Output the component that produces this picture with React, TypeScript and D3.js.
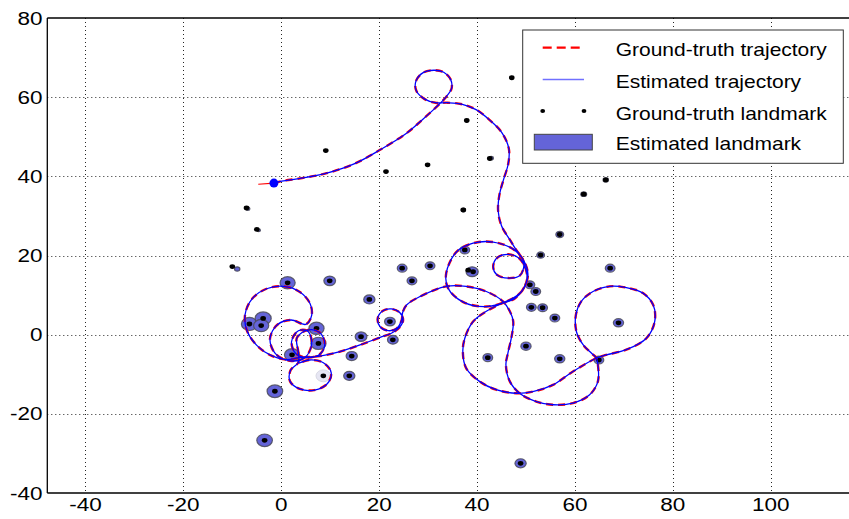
import React from 'react';
import * as d3 from 'd3';

// ground-truth path starts a little before the estimate
const gtStart: [number, number] = [-4.7, 38.0];

// trajectory [x, y]
const trajectory: [number, number][] = [
  [-1.5, 38.3], [0.1, 38.8], [4.5, 39.6], [9.3, 40.8], [15.0, 43.2], [20.2, 46.7], [25.6, 50.9],
  [29.0, 54.5], [31.5, 57.3], [33.5, 59.8], [34.8, 62.2], [34.6, 64.5], [33.2, 66.3], [31.2, 66.8],
  [29.0, 66.2], [27.5, 64.0], [27.6, 61.6], [29.3, 59.5], [31.5, 58.6], [34.0, 58.6], [37.0, 58.2],
  [39.9, 56.8], [42.6, 54.2], [45.1, 51.0], [46.5, 47.0], [46.4, 43.3], [45.4, 39.1], [44.6, 35.5],
  [44.3, 31.5], [45.0, 27.5], [46.7, 24.0], [48.0, 21.4], [49.4, 18.9], [49.5, 16.8], [48.7, 14.9],
  [46.4, 14.3], [44.1, 15.1], [43.3, 17.3], [44.3, 19.6], [46.4, 20.3], [48.6, 19.3], [49.9, 16.8],
  [50.2, 13.9], [49.1, 10.9], [46.7, 8.8], [41.9, 7.1], [37.1, 8.3], [34.1, 11.7], [33.7, 15.5],
  [35.8, 20.9], [39.2, 23.1], [43.3, 23.4], [47.4, 21.6], [49.5, 18.8], [50.4, 15.2], [49.6, 11.9],
  [47.6, 9.0], [45.3, 8.0], [41.9, 5.9], [39.2, 3.3], [37.5, -0.9], [37.1, -4.3], [37.8, -8.5],
  [40.5, -11.8], [43.9, -13.9], [48.0, -14.8], [51.4, -14.4], [55.5, -12.7], [59.6, -9.3], [64.4, -5.9],
  [66.4, -5.1], [70.5, -3.8], [74.6, -0.9], [76.3, 3.3], [76.0, 7.5], [73.9, 10.5], [70.5, 11.9],
  [67.1, 12.2], [63.7, 10.9], [61.3, 8.4], [60.2, 5.0], [60.3, 0.8], [61.7, -2.6], [63.4, -4.7],
  [64.4, -5.9], [64.7, -7.6], [64.7, -11.8], [63.0, -15.2], [59.6, -17.3], [55.5, -17.7], [52.1, -16.9],
  [48.7, -14.8], [46.7, -11.8], [45.9, -7.6], [46.3, -4.7], [47.0, -0.9], [47.4, 3.3], [46.7, 5.9],
  [45.3, 8.4], [41.9, 10.9], [37.8, 12.2], [33.7, 12.2], [28.3, 9.6], [25.6, 7.5], [24.8, 5.6],
  [24.6, 3.7], [23.6, 1.6], [21.9, 1.0], [20.2, 2.0], [19.7, 4.1], [20.7, 6.0], [22.5, 6.5],
  [24.2, 5.6], [24.9, 3.7], [24.2, 1.9], [22.5, 0.35], [20.2, -0.7], [16.1, -2.6], [12.0, -4.3],
  [7.9, -5.4], [3.8, -5.8], [1.0, -6.3], [-2.0, -5.3], [-5.0, -2.7], [-7.0, 1.0], [-7.4, 5.0],
  [-6.0, 9.0], [-3.0, 11.6], [0.5, 12.2], [3.8, 10.8], [5.9, 7.8], [6.2, 4.8], [5.0, 2.6],
  [2.0, 3.7], [-0.8, 2.5], [-2.3, -1.0], [-1.2, -4.8], [1.8, -6.6], [4.8, -5.8], [6.2, -2.5],
  [5.5, 0.8], [3.5, 1.0], [2.1, -1.8], [3.0, -4.8], [5.5, -5.8], [8.0, -4.8], [8.9, -2.2],
  [7.8, 0.6], [5.5, 1.2], [3.2, -0.8], [3.5, -4.5], [3.5, -7.0], [1.9, -9.0], [1.8, -11.8],
  [3.8, -13.7], [6.8, -14.0], [9.4, -12.4], [10.2, -9.6], [8.6, -7.1], [5.8, -6.4], [3.6, -7.2],
];

// ground-truth landmarks [x, y]
const gtLandmarks: [number, number][] = [
  [47.1, 64.9], [37.9, 54.1], [42.6, 44.5], [9.1, 46.5], [21.4, 41.2], [29.9, 42.9], [37.2, 31.5],
  [-7.1, 32.0], [-5.0, 26.6], [61.8, 35.5], [66.3, 39.1], [56.9, 25.3], [53.0, 20.1], [-10.0, 17.2],
  [1.3, 13.1], [9.9, 13.6], [18.0, 8.9], [24.7, 16.8], [26.7, 13.6], [30.4, 17.4], [37.5, 21.4],
  [38.2, 16.3], [39.2, 15.9], [50.8, 12.6], [52.0, 10.9], [51.1, 6.9], [53.4, 6.8], [55.9, 4.2],
  [67.2, 16.8], [68.9, 3.0], [64.9, -6.4], [56.9, -6.1], [50.0, -2.9], [42.2, -5.8], [-6.5, 2.7],
  [-3.7, 4.1], [-4.1, 2.3], [7.2, 1.6], [7.6, -2.2], [2.2, -5.1], [16.3, -0.5], [22.2, 3.3],
  [22.8, -1.3], [14.4, -5.4], [13.9, -10.4], [8.6, -10.4], [-1.3, -14.3], [-3.4, -26.7], [48.9, -32.5],
];

// estimated landmarks [x, y, sigma]
const estLandmarks: [number, number, number][] = [
  [47.1, 64.9, 0.35], [37.9, 54.1, 0.35], [42.9, 44.6, 0.45], [9.1, 46.5, 0.3], [21.4, 41.2, 0.3],
  [29.9, 42.9, 0.3], [37.2, 31.5, 0.45], [-6.8, 31.8, 0.4], [-4.6, 26.4, 0.35], [61.8, 35.5, 0.6],
  [66.3, 39.1, 0.55], [56.9, 25.3, 0.8], [53.0, 20.1, 0.8], [-9.0, 16.6, 0.55], [1.3, 13.1, 1.55],
  [9.9, 13.6, 1.2], [18.0, 8.9, 1.15], [24.7, 16.8, 1.0], [26.7, 13.6, 1.0], [30.4, 17.4, 1.0],
  [37.5, 21.4, 1.0], [39.0, 15.9, 1.25], [50.8, 12.6, 1.0], [52.0, 10.9, 1.0], [51.1, 6.9, 1.0],
  [53.4, 6.8, 1.0], [55.9, 4.2, 1.0], [67.2, 16.8, 1.0], [68.9, 3.0, 1.05], [64.9, -6.4, 1.0],
  [56.9, -6.1, 1.05], [50.0, -2.9, 1.05], [42.2, -5.8, 1.0], [-6.5, 2.7, 1.65], [-3.7, 4.1, 1.65],
  [-4.1, 2.3, 1.55], [7.2, 1.6, 1.55], [7.6, -2.2, 1.55], [2.2, -5.1, 1.55], [16.3, -0.5, 1.2],
  [22.2, 3.3, 1.1], [22.8, -1.3, 1.1], [14.4, -5.4, 1.15], [13.9, -10.4, 1.15], [-1.3, -14.3, 1.6],
  [-3.4, -26.7, 1.6], [48.9, -32.5, 1.15],
];

// newly initialised landmark, drawn faint
const faintLandmarks: [number, number, number][] = [[8.6, -10.4, 1.5]];

const xTicks = [-40, -20, 0, 20, 40, 60, 80, 100];
const yTicks = [-40, -20, 0, 20, 40, 60, 80];

const legendItems = ['Ground-truth trajectory', 'Estimated trajectory', 'Ground-truth landmark', 'Estimated landmark'];

const W = 849;
const H = 519;
const FONT = '"Liberation Sans", Arial, Helvetica, sans-serif';

export default function App() {
  const x = d3.scaleLinear().domain([-47.8, 116]).range([47.3, 849]);
  const y = d3.scaleLinear().domain([-40, 80]).range([493, 18]);

  const line = d3.line<[number, number]>()
    .x(d => x(d[0]))
    .y(d => y(d[1]))
    .curve(d3.curveCatmullRom.alpha(0.5));

  const gtPath = line(trajectory) || '';
  const estPath = line(trajectory) || '';

  const rx = (s: number) => x(s) - x(0);
  const ry = (s: number) => y(0) - y(s);

  const [x0, x1] = x.range();
  const [y0, y1] = y.range();

  const legX = 522.7;
  const legY = 30;
  const rowY = [47.7, 79.5, 111, 142];
  const baseY = [56, 88, 119.5, 150];

  return (
    <svg width={W} height={H} style={{ position: 'absolute', left: 0, top: 0, background: '#fff' }}>
      <rect x={0} y={0} width={W} height={H} fill="#fff" />
      <defs>
        <clipPath id="plot">
          <rect x={x0} y={y1} width={x1 - x0} height={y0 - y1} />
        </clipPath>
      </defs>

      {/* grid */}
      <g stroke="#000" strokeWidth={1} strokeDasharray="1,3" opacity={0.85}>
        {xTicks.map(t => (
          <line key={'gx' + t} x1={Math.round(x(t)) + 0.5} x2={Math.round(x(t)) + 0.5} y1={y1} y2={y0} />
        ))}
        {yTicks.filter(t => t > -40 && t < 80).map(t => (
          <line key={'gy' + t} x1={x0} x2={x1} y1={Math.round(y(t)) + 0.5} y2={Math.round(y(t)) + 0.5} />
        ))}
      </g>

      <g clipPath="url(#plot)">
        {/* estimated landmarks */}
        {estLandmarks.map((d, i) => (
          <ellipse key={'e' + i} cx={x(d[0])} cy={y(d[1])} rx={rx(d[2])} ry={ry(d[2])}
            fill="#6464d8" stroke="#4a4a58" strokeWidth={1.2} strokeOpacity={0.85} />
        ))}
        {faintLandmarks.map((d, i) => (
          <ellipse key={'f' + i} cx={x(d[0])} cy={y(d[1])} rx={rx(d[2])} ry={ry(d[2])}
            fill="#e6e6f3" stroke="#d8d8e4" strokeWidth={1} />
        ))}
        {/* ground-truth landmarks */}
        {gtLandmarks.map((d, i) => (
          <ellipse key={'g' + i} cx={x(d[0])} cy={y(d[1])} rx={2.8} ry={2.4} fill="#000" />
        ))}
        {/* trajectories */}
        <line x1={x(gtStart[0])} y1={y(gtStart[1])} x2={x(trajectory[0][0])} y2={y(trajectory[0][1])}
          stroke="#ff0000" strokeWidth={1.2} />
        <path d={gtPath} fill="none" stroke="#ff0000" strokeWidth={2.4} strokeDasharray="7,5" />
        <path d={estPath} fill="none" stroke="#0000ff" strokeWidth={1.3} />
        <circle cx={x(trajectory[0][0])} cy={y(trajectory[0][1])} r={4.5} fill="#0000ff" />
      </g>

      {/* axes box */}
      <g stroke="#000" strokeWidth={1.3} fill="none">
        <line x1={x0} x2={x1} y1={y0} y2={y0} />
        <line x1={x0} x2={x1} y1={y1} y2={y1} />
        <line x1={x0} x2={x0} y1={y1} y2={y0} />
      </g>

      {/* tick labels */}
      <g fontFamily={FONT} fontSize={18} fill="#000">
        {xTicks.map(t => (
          <g key={'xl' + t} transform={`translate(${x(t)},${510.5}) scale(1.25,1)`}>
            <text textAnchor="middle">{t}</text>
          </g>
        ))}
        {yTicks.map(t => (
          <g key={'yl' + t} transform={`translate(${42.5},${y(t) + 6.5}) scale(1.25,1)`}>
            <text textAnchor="end">{t}</text>
          </g>
        ))}
      </g>

      {/* legend */}
      <g>
        <rect x={legX} y={legY} width={320.6} height={133.3} fill="#fff" stroke="#333" strokeWidth={1} />
        <line x1={542.7} x2={584} y1={rowY[0]} y2={rowY[0]} stroke="#ff0000" strokeWidth={2.2} strokeDasharray="9,5" />
        <line x1={542.7} x2={584} y1={rowY[1]} y2={rowY[1]} stroke="#7070ff" strokeWidth={1.4} />
        <ellipse cx={542.7} cy={rowY[2]} rx={2.4} ry={2} fill="#000" />
        <ellipse cx={584} cy={rowY[2]} rx={2.4} ry={2} fill="#000" />
        <rect x={534.3} y={134.3} width={58} height={15.7} fill="#6464d8" stroke="#444" strokeWidth={1} />
        <g fontFamily={FONT} fontSize={17.5} fill="#000">
          {legendItems.map((s, i) => (
            <g key={s} transform={`translate(615.7,${baseY[i]}) scale(1.2,1)`}>
              <text>{s}</text>
            </g>
          ))}
        </g>
      </g>
    </svg>
  );
}
